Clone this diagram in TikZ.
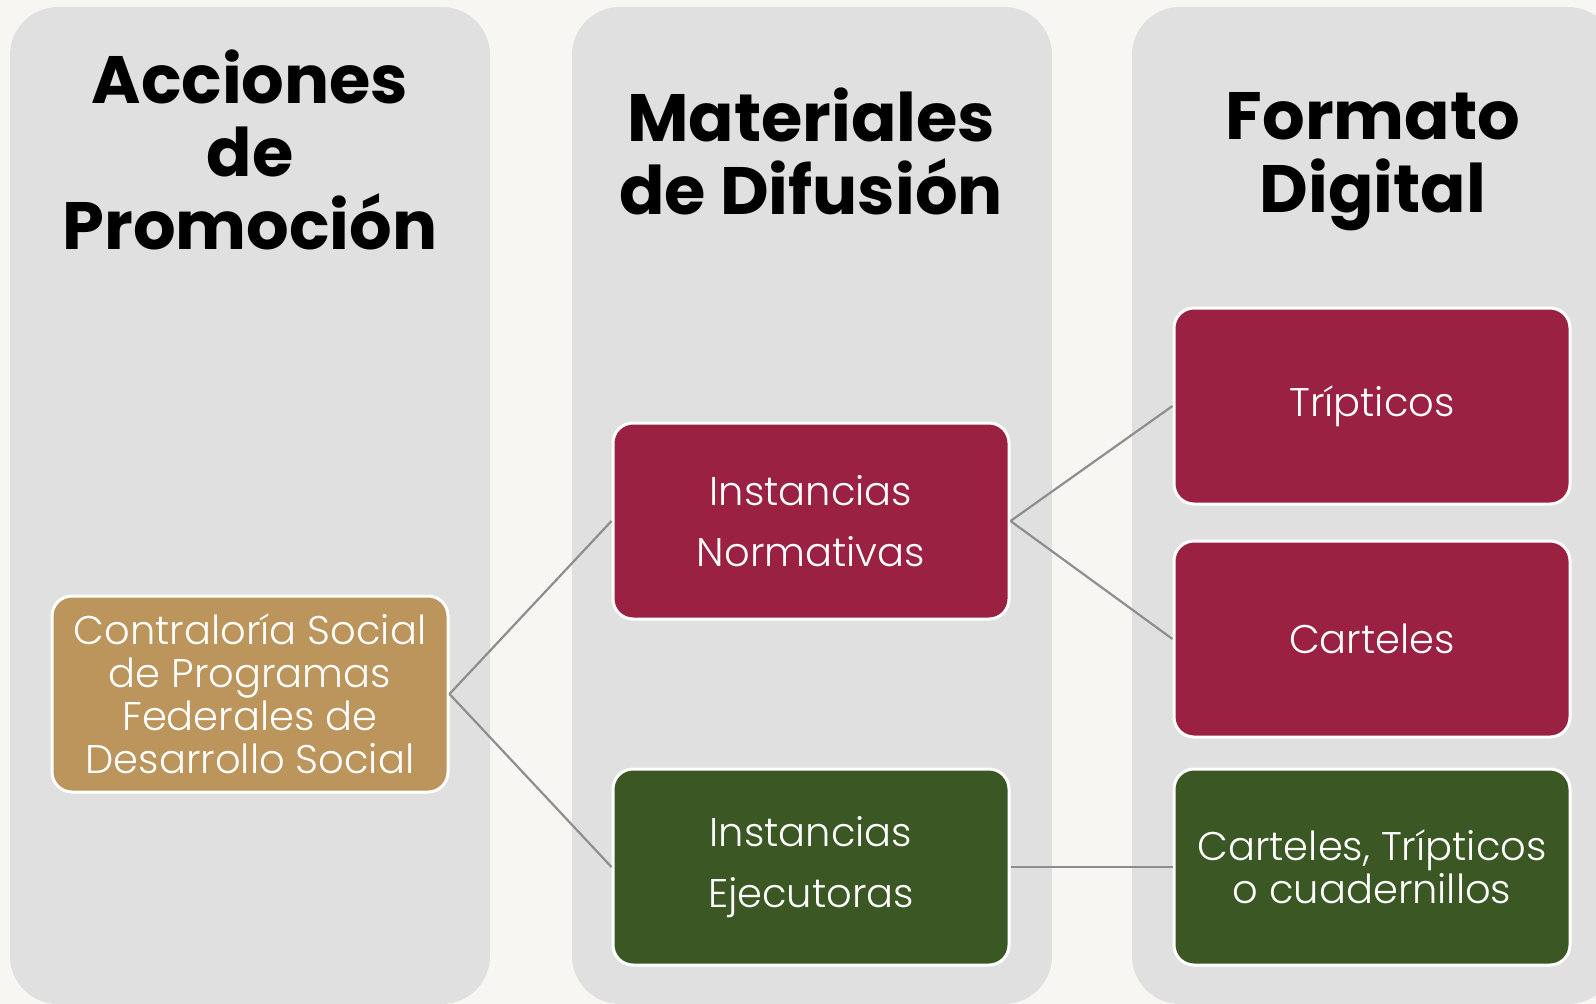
\documentclass[tikz,border=0pt]{standalone}
\usepackage{fontspec}
\setmainfont{Poppins}
\newfontfamily\lightfont{Poppins}[UprightFont=* Light]
\usetikzlibrary{positioning}
\definecolor{bgcream}{HTML}{F8F6F2}
\definecolor{panelgray}{HTML}{E0E0E0}
\definecolor{gold}{HTML}{BC955C}
\definecolor{wine}{HTML}{9A2142}
\definecolor{olive}{HTML}{3A5724}
\definecolor{linkgray}{HTML}{8E8E8E}

\begin{document}
\begin{tikzpicture}[
            x=1pt,y=-1pt,
            every node/.style={align=center},
            panel/.style={fill=panelgray,rounded corners=48pt},
            title/.style={font=\bfseries\fontsize{67}{73}\selectfont},
            item/.style={draw=white,line width=3pt,rounded corners=20pt,
                minimum width=396pt,minimum height=196pt,text=white,
                font=\lightfont\fontsize{40}{43}\selectfont},
            link/.style={draw=linkgray,line width=2.2pt}
        ]
        \useasboundingbox (0,0) rectangle (1596,1004);
        \fill[bgcream] (0,0) rectangle (1596,1004);

        % Draw panels %
        \begin{scope}
            \clip (0,0) rectangle (1596,1004);
            \fill[panel] (10,7) rectangle (490,1004);
            \fill[panel] (572,7) rectangle (1052,1004);
            \fill[panel] (1132,7) rectangle (1616,1004);
        \end{scope}

        % Draw titles %
        \node[title] (accion) at (250,150) {Acciones\\de\\Promoción};
        \node[title] (material) at (811,151) {Materiales\\de Difusión};
        \node[title] (formato) at (1373,162) {Formato\\Digital};

        % Draw boxes %
        \node[item,fill=gold] (cs) at (250,694)
            {Contraloría Social\\de Programas\\Federales de\\Desarrollo Social};
        \node[item,fill=wine,font=\lightfont\fontsize{40}{61}\selectfont] (norm) at (811,521)
            {Instancias\\Normativas};
        \node[item,fill=olive,font=\lightfont\fontsize{40}{61}\selectfont] (ejec) at (811,867)
            {Instancias\\Ejecutoras};
        \node[item,fill=wine] (trip) at (1372,406) {Trípticos};
        \node[item,fill=wine,below=34pt of trip] (cart) {Carteles};
        \node[item,fill=olive] (cuad) at (1372,867) {Carteles, Trípticos\\o cuadernillos};

        % Draw links %
        \draw[link] (cs.east) -- (norm.west);
        \draw[link] (cs.east) -- (ejec.west);
        \draw[link] (norm.east) -- (trip.west);
        \draw[link] (norm.east) -- (cart.west);
        \draw[link] (ejec.east) -- (cuad.west);
\end{tikzpicture}
\end{document}
